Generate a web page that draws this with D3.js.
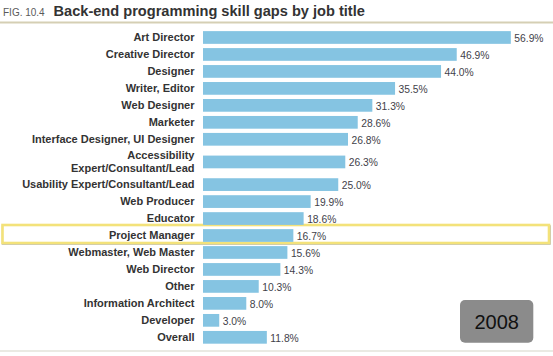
<!DOCTYPE html>
<html><head><meta charset="utf-8">
<script src="https://cdn.jsdelivr.net/npm/d3@7"></script>
<style>html,body{margin:0;padding:0;background:#fff;}svg{display:block;}</style>
</head><body>
<script>
const figLabel = "FIG. 10.4";
const title = "Back-end programming skill gaps by job title";
const categories = ["Art Director","Creative Director","Designer","Writer, Editor","Web Designer","Marketer","Interface Designer, UI Designer","Accessibility\nExpert/Consultant/Lead","Usability Expert/Consultant/Lead","Web Producer","Educator","Project Manager","Webmaster, Web Master","Web Director","Other","Information Architect","Developer","Overall"];
const values = [56.9,46.9,44.0,35.5,31.3,28.6,26.8,26.3,25.0,19.9,18.6,16.7,15.6,14.3,10.3,8.0,3.0,11.8];
const highlight = "Project Manager";
const yearLabel = "2008";

const W = 553, H = 356;
const svg = d3.select("body").append("svg").attr("width", W).attr("height", H);
const font = "'Liberation Sans', Arial, Helvetica, sans-serif";

// header
svg.append("text").attr("x", 3).attr("y", 16).attr("font-family", font).attr("font-size", 10)
  .attr("fill", "#5a5a5a").text(figLabel);
svg.append("text").attr("x", 53.5).attr("y", 16.3).attr("font-family", font).attr("font-size", 14.6)
  .attr("font-weight", "bold").attr("fill", "#333").text(title);
svg.append("line").attr("x1", 0).attr("x2", W).attr("y1", 22.5).attr("y2", 22.5)
  .attr("stroke", "#d5cfb4").attr("stroke-width", 2);
svg.append("line").attr("x1", 0).attr("x2", W).attr("y1", 351).attr("y2", 351)
  .attr("stroke", "#e3e3da").attr("stroke-width", 1.5);

// row layout: multi-line labels take more room
const rows = categories.map(c => c.split("\n"));
const weights = rows.map(r => r.length > 1 ? 1.67 : 1);
const starts = [];
let acc = 0;
weights.forEach(w => { starts.push(acc); acc += w; });
const y = d3.scaleLinear().domain([0, acc]).range([29, 345.8]);
const x = d3.scaleLinear().domain([0, 60]).range([203, 203 + 60 * 5.41]);
const barH = y(0.75) - y(0);
const center = i => y(starts[i] + weights[i] / 2);

// highlight box
const hi = categories.indexOf(highlight);
if (hi >= 0) {
  const cy = center(hi);
  svg.append("rect").attr("x", 2.5).attr("y", cy - 10.5 + 1).attr("width", 547.5).attr("height", 18)
    .attr("fill", "none").attr("stroke", "#b4b4a8").attr("stroke-width", 1.5);
  svg.append("rect").attr("x", 2.5).attr("y", cy - 10.5).attr("width", 546.5).attr("height", 18)
    .attr("fill", "#fff").attr("stroke", "#f3e27a").attr("stroke-width", 2.6);
}

const g = svg.append("g");
g.selectAll("rect.bar").data(values).join("rect").attr("class", "bar")
  .attr("x", x(0)).attr("y", (d, i) => center(i) - barH / 2)
  .attr("width", d => x(d) - x(0)).attr("height", barH).attr("fill", "#85c4e2");

g.selectAll("text.val").data(values).join("text").attr("class", "val")
  .attr("x", d => x(d) + 3.5).attr("y", (d, i) => center(i) + 4.3)
  .attr("font-family", font).attr("font-size", 10.3).attr("fill", "#3f3f4a")
  .text(d => d.toFixed(1) + "%");

const lab = g.selectAll("text.lab").data(rows).join("text").attr("class", "lab")
  .attr("text-anchor", "end").attr("font-family", font).attr("font-size", 11)
  .attr("font-weight", "bold").attr("fill", "#333");
lab.each(function(r, i) {
  const t = d3.select(this);
  const c = center(i);
  const first = c + 3.5 - (r.length - 1) * 12.3 / 2;
  r.forEach((line, k) => {
    t.append("tspan").attr("x", 194.5).attr("y", first + k * 12.3).text(line);
  });
});

// year badge
svg.append("rect").attr("x", 460).attr("y", 300).attr("width", 73.3).attr("height", 42.7)
  .attr("rx", 5).attr("fill", "#8b8b8b");
svg.append("text").attr("x", 496.7).attr("y", 329).attr("text-anchor", "middle")
  .attr("font-family", font).attr("font-size", 20).attr("fill", "#111").text(yearLabel);
</script>
</body></html>
